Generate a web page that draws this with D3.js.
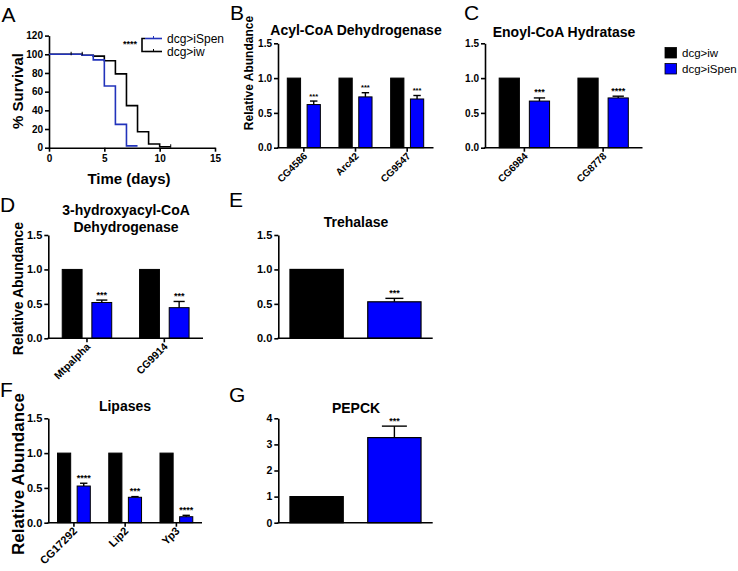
<!DOCTYPE html>
<html><head><meta charset="utf-8">
<script src="https://cdn.jsdelivr.net/npm/d3@7"></script>
<style>
body{margin:0;background:#fff;}
text{font-family:"Liberation Sans",Arial,Helvetica,sans-serif;}
</style></head>
<body>
<script>
// ---------- DATA ----------
const groups = ["dcg>iw", "dcg>iSpen"];
// Panel A: Kaplan-Meier survival (step points: day, % survival)
const iwDays = [0, 3, 4, 5, 6, 7, 8, 9, 10, 11];
const iwSurvival = [100, 99, 98, 93, 79, 45, 17, 4, 1, 1];
const iSpenDays = [0, 3, 4, 5, 6, 7, 8];
const iSpenSurvival = [100, 99, 94, 66, 25, 2, 2];
const iwCensorDays = [2, 3, 11];
const iwCensorSurv = [100, 100, 1];
const survTicksX = [0, 5, 10, 15];
const survTicksY = [0, 20, 40, 60, 80, 100, 120];

// Panel B: Acyl-CoA Dehydrogenase
const acylGenes = ["CG4586", "Arc42", "CG9547"];
const acylIw = [1, 1, 1];
const acylSpen = [0.62, 0.73, 0.70];
const acylSpenErr = [0.05, 0.06, 0.05];
const acylStars = ["***", "***", "***"];

// Panel C: Enoyl-CoA Hydratase
const enoylGenes = ["CG6984", "CG8778"];
const enoylIw = [1, 1];
const enoylSpen = [0.67, 0.715];
const enoylSpenErr = [0.045, 0.025];
const enoylStars = ["***", "****"];

// Panel D: 3-hydroxyacyl-CoA Dehydrogenase
const hadhGenes = ["Mtpalpha", "CG9914"];
const hadhIw = [1, 1];
const hadhSpen = [0.52, 0.445];
const hadhSpenErr = [0.035, 0.09];
const hadhStars = ["***", "***"];

// Panel E: Trehalase
const trehValues = [1, 0.53];
const trehErr = [0, 0.05];
const trehStars = ["", "***"];

// Panel F: Lipases
const lipGenes = ["CG17292", "Lip2", "Yp3"];
const lipIw = [1, 1, 1];
const lipSpen = [0.527, 0.365, 0.086];
const lipSpenErr = [0.04, 0.01, 0.02];
const lipStars = ["****", "***", "****"];

// Panel G: PEPCK
const pepckValues = [1, 3.26];
const pepckErr = [0, 0.44];
const pepckStars = ["", "***"];

const abundTicks = [0, 0.5, 1.0, 1.5];
const pepckTicks = [0, 1, 2, 3, 4];

// ---------- STYLE ----------
const BLUE = "#0000ff";
const SURV_BLUE = "#2233bb";
const FONT = '"Liberation Sans",Arial,Helvetica,sans-serif';

const svg = d3.select("body").append("svg")
  .attr("width", 738).attr("height", 571)
  .style("font-family", FONT);

function styleAxis(g, fs) {
  g.selectAll("path.domain").attr("stroke", "#000").attr("stroke-width", 1.6);
  g.selectAll(".tick line").attr("stroke", "#000").attr("stroke-width", 1.6);
  g.selectAll(".tick text").attr("fill", "#000").attr("font-size", fs)
    .attr("font-weight", "bold").attr("font-family", FONT);
}

function letter(t, x, y) {
  svg.append("text").attr("x", x).attr("y", y).attr("font-size", 21)
    .attr("fill", "#000").text(t);
}
function title(lines, cx, y, fs) {
  lines.forEach((l, i) => svg.append("text").attr("x", cx).attr("y", y + i * 16.5)
    .attr("text-anchor", "middle").attr("font-size", fs).attr("font-weight", "bold").text(l));
}
function yLabel(t, cx, cy, fs) {
  svg.append("text").attr("transform", `translate(${cx},${cy}) rotate(-90)`)
    .attr("text-anchor", "middle").attr("dy", "0.35em")
    .attr("font-size", fs).attr("font-weight", "bold").text(t);
}

// ---------- PANEL A ----------
(function () {
  const x = d3.scaleLinear().domain([0, 15]).range([49, 215]);
  const y = d3.scaleLinear().domain([0, 120]).range([147.7, 35.6]);
  const g = svg.append("g");
  const ya = g.append("g").attr("transform", "translate(49,0)")
    .call(d3.axisLeft(y).tickValues(survTicksY).tickSize(4).tickSizeOuter(0).tickPadding(2));
  styleAxis(ya, 10);
  const xa = g.append("g").attr("transform", "translate(0,147.7)")
    .call(d3.axisBottom(x).tickValues(survTicksX).tickSize(4).tickSizeOuter(0).tickPadding(3));
  styleAxis(xa, 10);

  const line = d3.line().x(d => x(d[0])).y(d => y(d[1])).curve(d3.curveStepAfter);
  const iw = iwDays.map((d, i) => [d, iwSurvival[i]]);
  const sp = iSpenDays.map((d, i) => [d, iSpenSurvival[i]]);
  g.append("path").attr("d", line(iw)).attr("fill", "none").attr("stroke", "#000").attr("stroke-width", 1.6);
  g.append("path").attr("d", line(sp)).attr("fill", "none").attr("stroke", SURV_BLUE).attr("stroke-width", 1.6);
  iwCensorDays.forEach((d, i) => {
    g.append("line").attr("x1", x(d)).attr("x2", x(d))
      .attr("y1", y(iwCensorSurv[i]) - 2.5).attr("y2", y(iwCensorSurv[i]) + 1)
      .attr("stroke", "#000").attr("stroke-width", 1);
  });

  // legend
  g.append("text").attr("x", 123).attr("y", 47).attr("font-size", 9).attr("font-weight", "bold").text("****");
  g.append("path").attr("d", "M145,38.5 H142 V51.5 H145").attr("fill", "none").attr("stroke", "#000").attr("stroke-width", 1.6);
  const leg = [[groups[1], SURV_BLUE, 38.5], [groups[0], "#000", 51.5]];
  leg.forEach(([t, c, ly]) => {
    g.append("line").attr("x1", 145).attr("x2", 162).attr("y1", ly).attr("y2", ly)
      .attr("stroke", c).attr("stroke-width", 1.6);
    g.append("line").attr("x1", 153.5).attr("x2", 153.5).attr("y1", ly - 2.5).attr("y2", ly)
      .attr("stroke", c).attr("stroke-width", 1);
    g.append("text").attr("x", 167).attr("y", ly + 4.2).attr("font-size", 12).text(t);
  });

  yLabel("% Survival", 18, 91, 15);
  svg.append("text").attr("x", 129).attr("y", 184).attr("text-anchor", "middle")
    .attr("font-size", 15).attr("font-weight", "bold").text("Time (days)");
  letter("A", 1.5, 22);
})();

// ---------- grouped bar helper ----------
function grouped(cfg) {
  const g = svg.append("g");
  const y = d3.scaleLinear().domain([0, cfg.ymax]).range([cfg.y0, cfg.y1]);
  const x0 = d3.scaleBand().domain(cfg.cats).range([cfg.xr0, cfg.xr1]);
  const x1 = d3.scaleBand().domain(groups).range([0, x0.bandwidth()])
    .paddingInner(0.33).paddingOuter(0.47);
  const bw = x1.bandwidth();
  cfg.cats.forEach((c, i) => {
    const vals = [[groups[0], cfg.iw[i], 0, "#000", ""], [groups[1], cfg.spen[i], cfg.err[i], BLUE, cfg.stars[i]]];
    vals.forEach(([grp, v, e, col, st]) => {
      const bx = x0(c) + x1(grp);
      g.append("rect").attr("x", bx).attr("y", y(v)).attr("width", bw).attr("height", y(0) - y(v))
        .attr("fill", col).attr("stroke", "#000").attr("stroke-width", 1);
      if (e > 0) {
        const cx = bx + bw / 2;
        g.append("line").attr("x1", cx).attr("x2", cx).attr("y1", y(v)).attr("y2", y(v + e))
          .attr("stroke", "#000").attr("stroke-width", 1.4);
        g.append("line").attr("x1", cx - bw * 0.28).attr("x2", cx + bw * 0.28).attr("y1", y(v + e)).attr("y2", y(v + e))
          .attr("stroke", "#000").attr("stroke-width", 1.4);
      }
      if (st) {
        g.append("text").attr("x", bx + bw / 2).attr("y", y(v + e) - 2.5).attr("text-anchor", "middle")
          .attr("font-size", cfg.sfs).attr("font-weight", "bold").text(st);
      }
    });
  });
  const ya = g.append("g").attr("transform", `translate(${cfg.xr0},0)`)
    .call(d3.axisLeft(y).tickValues(cfg.ticks).tickFormat(cfg.fmt).tickSize(4).tickSizeOuter(0).tickPadding(2));
  styleAxis(ya, cfg.tfs);
  g.append("line").attr("x1", cfg.xr0 - 0.8).attr("x2", cfg.xEnd).attr("y1", y(0)).attr("y2", y(0))
    .attr("stroke", "#000").attr("stroke-width", 1.6);
  cfg.cats.forEach(c => {
    const cx = x0(c) + x0.bandwidth() / 2;
    g.append("line").attr("x1", cx).attr("x2", cx).attr("y1", y(0)).attr("y2", y(0) + 4)
      .attr("stroke", "#000").attr("stroke-width", 1.6);
    g.append("text").attr("transform", `translate(${cx + 4},${y(0) + 9}) rotate(-45)`)
      .attr("text-anchor", "end").attr("font-size", cfg.lfs).attr("font-weight", "bold").text(c);
  });
}

function single(cfg) {
  const g = svg.append("g");
  const y = d3.scaleLinear().domain([0, cfg.ymax]).range([cfg.y0, cfg.y1]);
  const x = d3.scaleBand().domain(groups).range([cfg.xr0, cfg.xr1]).paddingInner(0.315).paddingOuter(0.15);
  const bw = x.bandwidth();
  const cols = ["#000", BLUE];
  groups.forEach((grp, i) => {
    const v = cfg.values[i], e = cfg.err[i];
    const bx = x(grp);
    g.append("rect").attr("x", bx).attr("y", y(v)).attr("width", bw).attr("height", y(0) - y(v))
      .attr("fill", cols[i]).attr("stroke", "#000").attr("stroke-width", 1.2);
    const cx = bx + bw / 2;
    if (e > 0) {
      g.append("line").attr("x1", cx).attr("x2", cx).attr("y1", y(v)).attr("y2", y(v + e))
        .attr("stroke", "#000").attr("stroke-width", 1.4);
      g.append("line").attr("x1", cx - cfg.cap).attr("x2", cx + cfg.cap).attr("y1", y(v + e)).attr("y2", y(v + e))
        .attr("stroke", "#000").attr("stroke-width", 1.4);
    }
    if (cfg.stars[i]) {
      g.append("text").attr("x", cx).attr("y", y(v + e) - 2.5).attr("text-anchor", "middle")
        .attr("font-size", 9).attr("font-weight", "bold").text(cfg.stars[i]);
    }
  });
  const ya = g.append("g").attr("transform", `translate(${cfg.xr0},0)`)
    .call(d3.axisLeft(y).tickValues(cfg.ticks).tickFormat(cfg.fmt).tickSize(4).tickSizeOuter(0).tickPadding(2));
  styleAxis(ya, cfg.tfs);
  g.append("line").attr("x1", cfg.xr0 - 0.8).attr("x2", cfg.xr1).attr("y1", y(0)).attr("y2", y(0))
    .attr("stroke", "#000").attr("stroke-width", 1.6);
}

const f1 = d3.format(".1f");

// B
grouped({cats: acylGenes, iw: acylIw, spen: acylSpen, err: acylSpenErr, stars: acylStars,
  ymax: 1.5, y0: 147.7, y1: 43.3, xr0: 278, xr1: 433, xEnd: 433.5, ticks: abundTicks, fmt: f1,
  tfs: 10, lfs: 10, sfs: 7.5});
title(["Acyl-CoA Dehydrogenase"], 356, 35, 14);
yLabel("Relative Abundance", 249, 73, 12);
letter("B", 230, 20);

// C
grouped({cats: enoylGenes, iw: enoylIw, spen: enoylSpen, err: enoylSpenErr, stars: enoylStars,
  ymax: 1.5, y0: 147.7, y1: 43.3, xr0: 485, xr1: 642.5, xEnd: 642.5, ticks: abundTicks, fmt: f1,
  tfs: 10, lfs: 10, sfs: 9});
title(["Enoyl-CoA Hydratase"], 564, 36.5, 14);
letter("C", 464, 20);
[[groups[0], "#000", 47.5], [groups[1], BLUE, 63.5]].forEach(([t, c, ly]) => {
  svg.append("rect").attr("x", 665).attr("y", ly).attr("width", 11.5).attr("height", 10.5)
    .attr("fill", c).attr("stroke", "#000").attr("stroke-width", 0.8);
  svg.append("text").attr("x", 682).attr("y", ly + 9).attr("font-size", 11.5).text(t);
});

// D
grouped({cats: hadhGenes, iw: hadhIw, spen: hadhSpen, err: hadhSpenErr, stars: hadhStars,
  ymax: 1.5, y0: 338.3, y1: 235, xr0: 48.3, xr1: 203, xEnd: 203, ticks: abundTicks, fmt: f1,
  tfs: 11, lfs: 10.5, sfs: 9});
title(["3-hydroxyacyl-CoA", "Dehydrogenase"], 126, 215, 14);
yLabel("Relative Abundance", 18.5, 288.5, 14);
letter("D", 0, 212);

// E
single({values: trehValues, err: trehErr, stars: trehStars, ymax: 1.5, y0: 338.3, y1: 235,
  xr0: 278.3, xr1: 432.7, ticks: abundTicks, fmt: f1, tfs: 11, cap: 9});
title(["Trehalase"], 356, 226.5, 14);
letter("E", 229, 207);

// F
grouped({cats: lipGenes, iw: lipIw, spen: lipSpen, err: lipSpenErr, stars: lipStars,
  ymax: 1.5, y0: 522.7, y1: 418.3, xr0: 48.3, xr1: 202, xEnd: 202, ticks: abundTicks, fmt: f1,
  tfs: 11, lfs: 11, sfs: 9});
title(["Lipases"], 125, 411, 14);
yLabel("Relative Abundance", 18.5, 474, 17);
letter("F", 0, 397);

// G
single({values: pepckValues, err: pepckErr, stars: pepckStars, ymax: 4, y0: 522.7, y1: 418.3,
  xr0: 278.3, xr1: 432.7, ticks: pepckTicks, fmt: d3.format("d"), tfs: 10.5, cap: 12.5});
title(["PEPCK"], 356, 413, 14);
letter("G", 229, 402);
</script>
</body></html>
